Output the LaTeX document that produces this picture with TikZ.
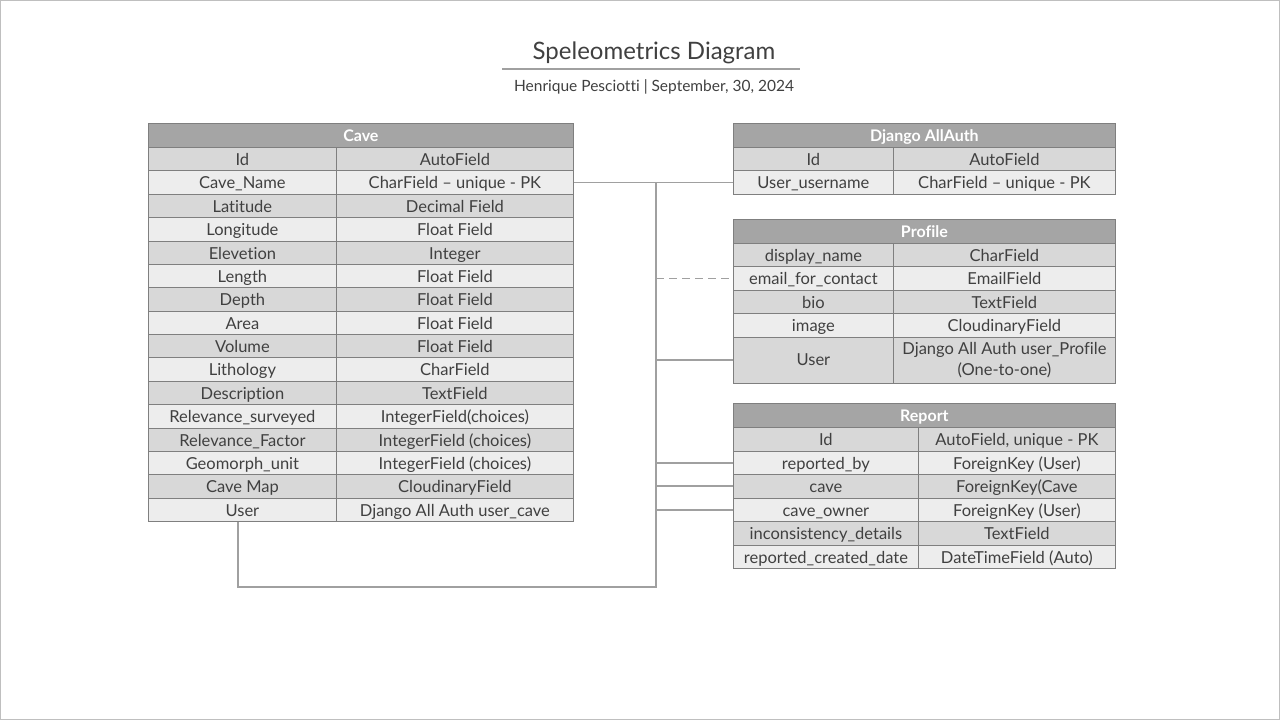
\documentclass[tikz,border=0pt]{standalone}
\usepackage{fontspec}
\setmainfont{Lato}[Ligatures={NoCommon,TeX}]
\definecolor{txt}{HTML}{404040}
\definecolor{hdrc}{HTML}{A5A5A5}
\definecolor{dk}{HTML}{D8D8D8}
\definecolor{lt}{HTML}{EDEDED}
\definecolor{gridc}{HTML}{7F7F7F}
\definecolor{connc}{HTML}{A0A0A0}
\definecolor{framec}{HTML}{BFBFBF}
\tikzset{
  cell/.style={draw=gridc, line width=0.8pt, inner sep=0pt, text=txt, align=center,
    font=\fontsize{16.5}{21}\selectfont, anchor=north west},
  hdr/.style={draw=gridc, line width=0.8pt, fill=hdrc, inner sep=0pt, text=white,
    font=\fontsize{16}{19}\selectfont\bfseries, anchor=north west, minimum height=24,
    text height=12, text depth=0},
  conn/.style={draw=connc, line width=1.8pt},
}
% #1 name, #2 x1, #3 xs, #4 x2, #5 ytop, #6 h, #7 fill, #8 left, #9 right
\newcommand\cellrow[9]{%
  \node[cell, text height=13, text depth=0, fill=#7, minimum width={#3-#2}, minimum height={#6}] (#1l) at (#2,#5) {#8};
  \node[cell, text height=13, text depth=0, fill=#7, minimum width={#4-#3}, minimum height={#6}] (#1r) at (#3,#5) {#9};}
\begin{document}
\begin{tikzpicture}[x=1pt, y=-1pt]
\useasboundingbox (0,0) rectangle (1280,720);
\draw[framec, line width=1pt] (0.5,0.5) rectangle (1279.5,719.5);

% title
\node[text=txt, font=\fontsize{24}{28}\selectfont] (title) at (654,53) {Speleometrics Diagram};
\coordinate (tl1) at (502,69);
\coordinate (tl2) at (800,69);
\draw[connc, line width=1.8pt] (tl1) -- (tl2);
\node[text=txt, font=\fontsize{15.5}{18}\selectfont] (sub) at (654,86.5) {Henrique Pesciotti | September, 30, 2024};

% Cave table
\node[hdr, minimum width=425] (caveh) at (148,123) {Cave};
\def\ch{23.375}
\cellrow{cavea}{148}{336}{573}{147}{\ch}{dk}{Id}{AutoField}
\cellrow{caveb}{148}{336}{573}{170.375}{\ch}{lt}{Cave\_Name}{CharField -- unique - PK}
\cellrow{cavec}{148}{336}{573}{193.75}{\ch}{dk}{Latitude}{Decimal Field}
\cellrow{caved}{148}{336}{573}{217.125}{\ch}{lt}{Longitude}{Float Field}
\cellrow{cavee}{148}{336}{573}{240.5}{\ch}{dk}{Elevetion}{Integer}
\cellrow{cavef}{148}{336}{573}{263.875}{\ch}{lt}{Length}{Float Field}
\cellrow{caveg}{148}{336}{573}{287.25}{\ch}{dk}{Depth}{Float Field}
\cellrow{caveh2}{148}{336}{573}{310.625}{\ch}{lt}{Area}{Float Field}
\cellrow{cavei}{148}{336}{573}{334}{\ch}{dk}{Volume}{Float Field}
\cellrow{cavej}{148}{336}{573}{357.375}{\ch}{lt}{Lithology}{CharField}
\cellrow{cavek}{148}{336}{573}{380.75}{\ch}{dk}{Description}{TextField}
\cellrow{cavel}{148}{336}{573}{404.125}{\ch}{lt}{Relevance\_surveyed}{IntegerField(choices)}
\cellrow{cavem}{148}{336}{573}{427.5}{\ch}{dk}{Relevance\_Factor}{IntegerField (choices)}
\cellrow{caven}{148}{336}{573}{450.875}{\ch}{lt}{Geomorph\_unit}{IntegerField (choices)}
\cellrow{caveo}{148}{336}{573}{474.25}{\ch}{dk}{Cave Map}{CloudinaryField}
\cellrow{cavep}{148}{336}{573}{497.625}{\ch}{lt}{User}{Django All Auth user\_cave}

% Django AllAuth
\node[hdr, minimum width=382] (authh) at (733,123) {Django AllAuth};
\cellrow{autha}{733}{893}{1115}{147}{\ch}{dk}{Id}{AutoField}
\cellrow{authb}{733}{893}{1115}{170.375}{\ch}{lt}{User\_username}{CharField -- unique - PK}

% Profile
\node[hdr, minimum width=382] (profh) at (733,219) {Profile};
\cellrow{profa}{733}{893}{1115}{243}{\ch}{dk}{display\_name}{CharField}
\cellrow{profb}{733}{893}{1115}{266.375}{\ch}{lt}{email\_for\_contact}{EmailField}
\cellrow{profc}{733}{893}{1115}{289.75}{\ch}{dk}{bio}{TextField}
\cellrow{profd}{733}{893}{1115}{313.125}{\ch}{lt}{image}{CloudinaryField}
\node[cell, fill=dk, minimum width=160, minimum height=46.5] (profel) at (733,336.5) {User};
\node[cell, fill=dk, minimum width=222, minimum height=46.5] (profer) at (893,336.5) {Django All Auth user\_Profile\\(One-to-one)};

% Report
\node[hdr, minimum width=382] (reph) at (733,403) {Report};
\def\rh{23.5}
\cellrow{repa}{733}{918}{1115}{427}{\rh}{dk}{Id}{AutoField, unique - PK}
\cellrow{repb}{733}{918}{1115}{450.5}{\rh}{lt}{reported\_by}{ForeignKey (User)}
\cellrow{repc}{733}{918}{1115}{474}{\rh}{dk}{cave}{ForeignKey(Cave}
\cellrow{repd}{733}{918}{1115}{497.5}{\rh}{lt}{cave\_owner}{ForeignKey (User)}
\cellrow{repe}{733}{918}{1115}{521}{\rh}{dk}{inconsistency\_details}{TextField}
\cellrow{repf}{733}{918}{1115}{544.5}{\rh}{lt}{reported\_created\_date}{DateTimeField (Auto)}

% connectors
\coordinate (bt) at (656,182);
\coordinate (bb) at (656,587);
\coordinate (cb) at (238,587);
\draw[conn] (cavebr.east) -- (authbl.west);
\draw[conn] (bt |- cavebr.east) -- (bb) -- (cb) -- (cb |- cavepl.south);
\draw[conn, dash pattern=on 8pt off 5pt] (bt |- profbl.west) -- (profbl.west);
\draw[conn] (bt |- profel.west) -- (profel.west);
\draw[conn] (bt |- repbl.west) -- (repbl.west);
\draw[conn] (bt |- repcl.west) -- (repcl.west);
\draw[conn] (bt |- repdl.west) -- (repdl.west);
\end{tikzpicture}
\end{document}
